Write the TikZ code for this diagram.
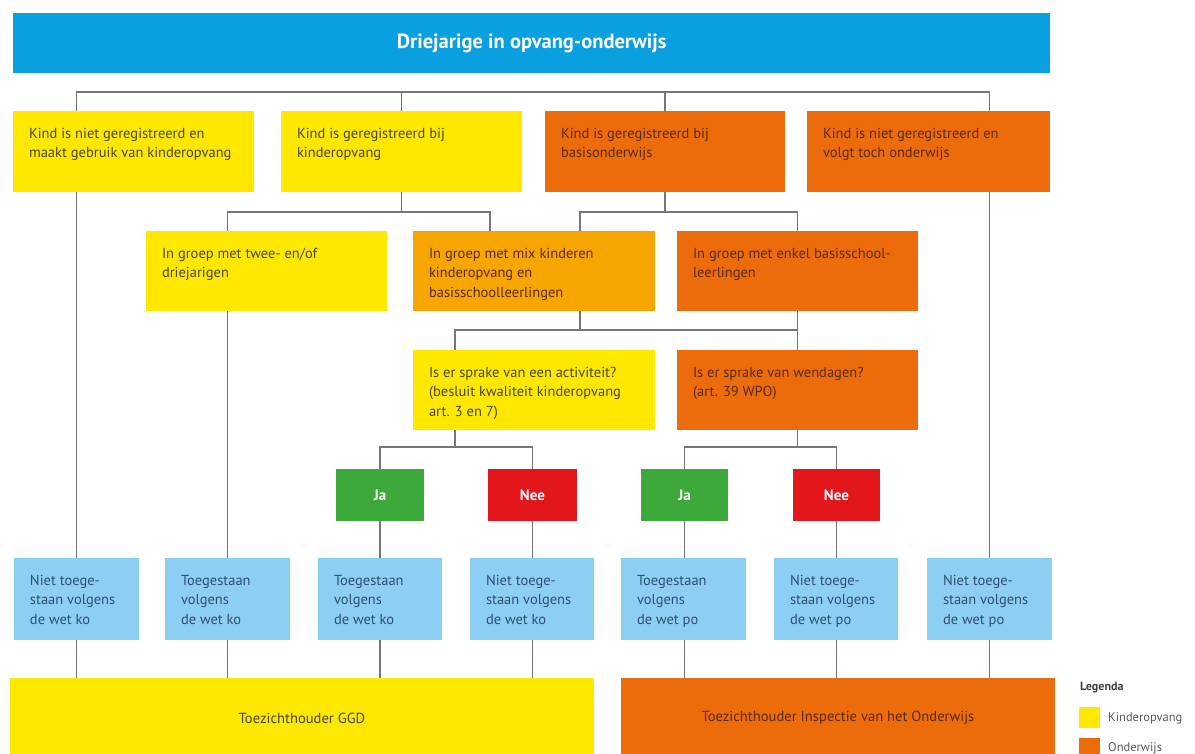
\documentclass[tikz,border=0pt]{standalone}
\usepackage{fontspec}
\setmainfont{PT Sans}
\definecolor{titleblue}{HTML}{0A9FDF}
\definecolor{ko}{HTML}{FFE800}
\definecolor{po}{HTML}{EC6B0B}
\definecolor{mix}{HTML}{F7A500}
\definecolor{lblue}{HTML}{8DCFF2}
\definecolor{jagreen}{HTML}{3DA93A}
\definecolor{neered}{HTML}{E3161B}
\definecolor{linegray}{HTML}{767676}
\definecolor{kotext}{HTML}{4A4618}
\definecolor{potext}{HTML}{5A2A08}
\definecolor{btext}{HTML}{2F4E72}
\newcommand{\bx}[3]{\parbox[b][#2][t]{#1}{\raggedright\rule{0pt}{27pt}#3}}
\newcommand{\bfnt}{\fontsize{14.5}{19.5}\selectfont}
\tikzset{
  conn/.style={draw=linegray, line width=1.2pt},
  boxbase/.style={anchor=north west, inner xsep=16pt, inner ysep=0pt, outer sep=0pt, font=\bfnt},
  ybox/.style={boxbase, fill=ko, text=kotext},
  obox/.style={boxbase, fill=po, text=potext},
  mbox/.style={boxbase, fill=mix, text=potext},
  bbox/.style={boxbase, fill=lblue, text=btext},
  ynbox/.style={anchor=north west, inner sep=0pt, outer sep=0pt, minimum height=52pt, text=white, font=\fontsize{15}{17}\selectfont\bfseries},
  jabox/.style={ynbox, fill=jagreen},
  neebox/.style={ynbox, fill=neered},
  superbox/.style={anchor=north west, inner sep=0pt, outer sep=0pt, minimum height=80pt, font=\fontsize{14.6}{17}\selectfont},
  legsq/.style={anchor=north west, inner sep=0pt, minimum width=21pt, minimum height=21pt},
  legtxt/.style={anchor=west, inner sep=0pt, text=black!65, font=\fontsize{12.5}{14}\selectfont}
}
\begin{document}
\begin{tikzpicture}[x=1pt, y=-1pt]
\useasboundingbox (0,0) rectangle (1195,753);
% title
\node[anchor=north west, inner sep=0pt, fill=titleblue, minimum width=1037pt, minimum height=60pt, text=white, font=\fontsize{20.5}{24}\selectfont\bfseries] (title) at (13,13) {Driejarige in opvang-onderwijs};
% row 1
\node[ybox] (k1) at (13,111) {\bx{209pt}{81pt}{Kind is niet geregistreerd en\\maakt gebruik van kinderopvang}};
\node[ybox] (k2) at (281,111) {\bx{209pt}{81pt}{Kind is geregistreerd bij\\kinderopvang}};
\node[obox] (k3) at (545,111) {\bx{208pt}{81pt}{Kind is geregistreerd bij\\basisonderwijs}};
\node[obox] (k4) at (807,111) {\bx{211pt}{81pt}{Kind is niet geregistreerd en\\volgt toch onderwijs}};
% row 2
\node[ybox] (g1) at (146,231) {\bx{209pt}{80pt}{In groep met twee- en/of\\driejarigen}};
\node[mbox] (g2) at (413,231) {\bx{210pt}{80pt}{In groep met mix kinderen\\kinderopvang en\\basisschoolleerlingen}};
\node[obox] (g3) at (677,231) {\bx{209pt}{80pt}{In groep met enkel basisschool-\\leerlingen}};
% row 3
\node[ybox] (q1) at (413,350) {\bx{210pt}{80pt}{Is er sprake van een activiteit?\\(besluit kwaliteit kinderopvang\\art. 3 en 7)}};
\node[obox] (q2) at (677,350) {\bx{209pt}{80pt}{Is er sprake van wendagen?\\(art. 39 WPO)}};
% ja / nee
\node[jabox, minimum width=88pt] (j1) at (336,469) {Ja};
\node[neebox, minimum width=89pt] (n1) at (488,469) {Nee};
\node[jabox, minimum width=87pt] (j2) at (641,469) {Ja};
\node[neebox, minimum width=87pt] (n2) at (793,469) {Nee};
% outcomes
\node[bbox] (b1) at (14,558) {\bx{93pt}{82pt}{Niet toege-\\staan volgens\\de wet ko}};
\node[bbox] (b2) at (165,558) {\bx{93pt}{82pt}{Toegestaan\\volgens\\de wet ko}};
\node[bbox] (b3) at (318,558) {\bx{92pt}{82pt}{Toegestaan\\volgens\\de wet ko}};
\node[bbox] (b4) at (470,558) {\bx{92pt}{82pt}{Niet toege-\\staan volgens\\de wet ko}};
\node[bbox] (b5) at (621,558) {\bx{93pt}{82pt}{Toegestaan\\volgens\\de wet po}};
\node[bbox] (b6) at (774,558) {\bx{92pt}{82pt}{Niet toege-\\staan volgens\\de wet po}};
\node[bbox] (b7) at (927,558) {\bx{93pt}{82pt}{Niet toege-\\staan volgens\\de wet po}};
% supervisors
\node[superbox, fill=ko, text=kotext, minimum width=584pt] (ggd) at (10,678) {Toezichthouder GGD};
\node[superbox, fill=po, text=potext, minimum width=434pt] (ins) at (621,678) {Toezichthouder Inspectie van het Onderwijs};
% legend
\node[anchor=west, inner sep=0pt, text=black!75, font=\fontsize{12}{14}\selectfont\bfseries] (leg) at (1080,688) {Legenda};
\node[legsq, fill=ko] (lk) at (1079,707) {};
\node[legtxt] (lkt) at (1108,718) {Kinderopvang};
\node[legsq, fill=po] (lo) at (1079,738) {};
\node[legtxt] (lot) at (1108,748) {Onderwijs};
% bus levels and free x positions
\coordinate (y1) at (0,92);
\coordinate (y2) at (0,212);
\coordinate (y3) at (0,330);
\coordinate (y4) at (0,447);
\coordinate (x6a) at (490,0);
\coordinate (x6b) at (580,0);
\coordinate (x8) at (455,0);
% connectors top level
\draw[conn] (b1 |- k1.north) |- (b7 |- y1) -- (b7 |- k4.north);
\draw[conn] (k2.north) -- (k2.north |- y1);
\draw[conn] (k3.north) -- (k3.north |- y1);
\draw[conn] (b1 |- k1.south) -- (b1.north);
\draw[conn] (b7 |- k4.south) -- (b7.north);
% row 1 -> row 2
\draw[conn] (k2.south) -- (k2.south |- y2);
\draw[conn] (b2 |- g1.north) |- (x6a |- y2) -- (x6a |- g2.north);
\draw[conn] (k3.south) -- (k3.south |- y2);
\draw[conn] (x6b |- g2.north) |- (g3.north |- y2) -- (g3.north);
\draw[conn] (b2 |- g1.south) -- (b2.north);
% row 2 -> row 3
\draw[conn] (x6b |- g2.south) -- (x6b |- y3);
\draw[conn] (g3.south) -- (g3.south |- q2.north);
\draw[conn] (x8 |- q1.north) |- (g3.south |- y3);
% row 3 -> ja/nee
\draw[conn] (x8 |- q1.south) -- (x8 |- y4);
\draw[conn] (j1.north) |- (n1.north |- y4) -- (n1.north);
\draw[conn] (q2.south) -- (q2.south |- y4);
\draw[conn] (j2.north) |- (n2.north |- y4) -- (n2.north);
% ja/nee -> outcomes
\draw[conn] (j1.south) -- (j1.south |- b3.north);
\draw[conn] (n1.south) -- (n1.south |- b4.north);
\draw[conn] (j2.south) -- (j2.south |- b5.north);
\draw[conn] (n2.south) -- (n2.south |- b6.north);
% outcomes -> supervisors
\draw[conn] (j1.south |- b3.south) -- (j1.south |- ggd.north);
\draw[conn] (n1.south |- b4.south) -- (n1.south |- ggd.north);
\draw[conn] (b1.south) -- (b1.south |- ggd.north);
\draw[conn] (b2.south) -- (b2.south |- ggd.north);
\draw[conn] (j2.south |- b5.south) -- (j2.south |- ins.north);
\draw[conn] (n2.south |- b6.south) -- (n2.south |- ins.north);
\draw[conn] (b7.south) -- (b7.south |- ins.north);
\end{tikzpicture}
\end{document}
